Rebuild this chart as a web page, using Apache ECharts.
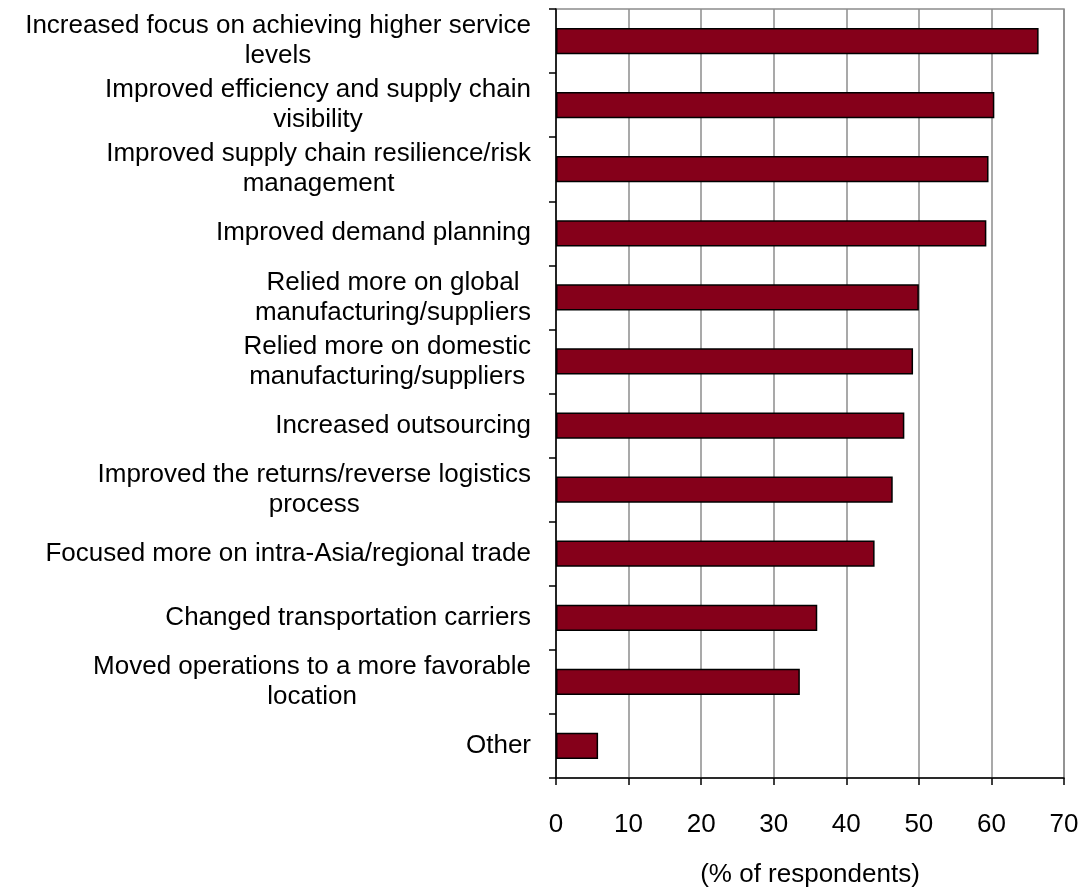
<!DOCTYPE html>
<html>
<head>
<meta charset="utf-8">
<script src="https://cdn.jsdelivr.net/npm/echarts@6/dist/echarts.min.js"></script>
<style>
  html, body { margin: 0; padding: 0; background: #fff; }
  #chart { width: 1088px; height: 893px; }
</style>
</head>
<body>
<div id="chart"></div>
<script>
// Survey responses, listed top to bottom
const categories = [
  'Increased focus on achieving higher service\nlevels',
  'Improved efficiency and supply chain\nvisibility',
  'Improved supply chain resilience/risk\nmanagement',
  'Improved demand planning',
  'Relied more on global\nmanufacturing/suppliers',
  'Relied more on domestic\nmanufacturing/suppliers',
  'Increased outsourcing',
  'Improved the returns/reverse logistics\nprocess',
  'Focused more on intra-Asia/regional trade',
  'Changed transportation carriers',
  'Moved operations to a more favorable\nlocation',
  'Other'
];
const respondents = [66.5, 60.4, 59.6, 59.3, 50.0, 49.2, 48.0, 46.4, 43.9, 36.0, 33.6, 5.8];
const xTicks = [0, 10, 20, 30, 40, 50, 60, 70];
const xTitle = '(% of respondents)';

const FONT = '"Liberation Sans", Arial, sans-serif';

const chart = echarts.init(document.getElementById('chart'), null, { renderer: 'canvas' });

chart.setOption({
  animation: false,
  backgroundColor: '#ffffff',
  grid: {
    left: 556, right: 24, top: 9, bottom: 108,
    show: true, borderColor: '#8c8c8c', borderWidth: 1.5, backgroundColor: 'transparent'
  },
  xAxis: {
    type: 'value',
    min: xTicks[0],
    max: xTicks[xTicks.length - 1],
    interval: xTicks[1] - xTicks[0],
    name: xTitle,
    nameLocation: 'middle',
    nameGap: 84,
    nameTextStyle: { fontFamily: FONT, fontSize: 26, color: '#000' },
    axisLine: { show: true, lineStyle: { color: '#000', width: 1.5 } },
    axisTick: { show: true, length: 7, inside: false, lineStyle: { color: '#000', width: 1.5 } },
    axisLabel: { fontFamily: FONT, fontSize: 26, color: '#000', margin: 34 },
    splitLine: { show: true, lineStyle: { color: '#8c8c8c', width: 1.5 } }
  },
  yAxis: {
    type: 'category',
    data: categories,
    inverse: true,
    boundaryGap: true,
    axisLine: { show: true, lineStyle: { color: '#000', width: 1.5 } },
    axisTick: { show: true, length: 7, inside: false, alignWithLabel: false, lineStyle: { color: '#000', width: 1.5 } },
    axisLabel: {
      interval: 0,
      margin: 25,
      align: 'right',
      formatter: function (value) {
        return value.split('\n').map(function (l) { return '{c|' + l + '}'; }).join('\n');
      },
      rich: {
        c: { align: 'center', fontFamily: FONT, fontSize: 26, lineHeight: 30, color: '#000' }
      }
    },
    splitLine: { show: false }
  },
  series: [{
    type: 'bar',
    data: respondents,
    barWidth: '41%',
    itemStyle: { color: '#85001a', borderColor: '#000', borderWidth: 1.5 },
    silent: true
  }]
});
</script>
</body>
</html>
